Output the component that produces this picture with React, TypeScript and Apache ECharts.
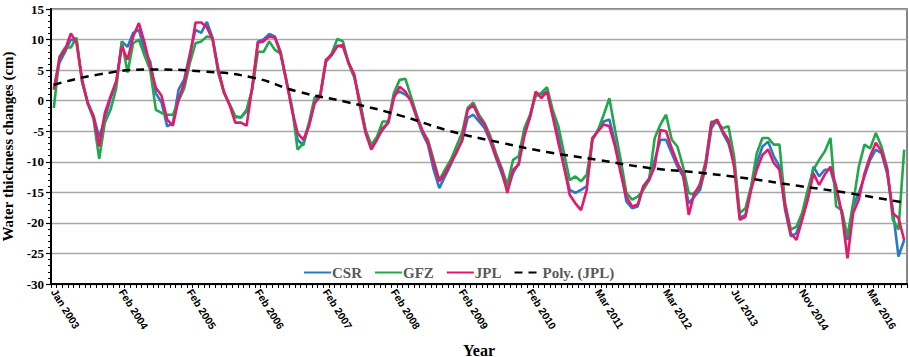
import React, { useEffect, useRef } from "react";
import * as echarts from "echarts";

const categories: string[] = [
  "Jan 2003","Feb 2003","Mar 2003","Apr 2003","May 2003","Jul 2003","Aug 2003","Sep 2003","Oct 2003","Nov 2003","Dec 2003","Jan 2004",
  "Feb 2004","Mar 2004","Apr 2004","May 2004","Jun 2004","Jul 2004","Aug 2004","Sep 2004","Oct 2004","Nov 2004","Dec 2004","Jan 2005",
  "Feb 2005","Mar 2005","Apr 2005","May 2005","Jun 2005","Jul 2005","Aug 2005","Sep 2005","Oct 2005","Nov 2005","Dec 2005","Jan 2006",
  "Feb 2006","Mar 2006","Apr 2006","May 2006","Jun 2006","Jul 2006","Aug 2006","Sep 2006","Oct 2006","Nov 2006","Dec 2006","Jan 2007",
  "Feb 2007","Mar 2007","Apr 2007","May 2007","Jun 2007","Jul 2007","Aug 2007","Sep 2007","Oct 2007","Nov 2007","Dec 2007","Jan 2008",
  "Feb 2008","Mar 2008","Apr 2008","May 2008","Jun 2008","Jul 2008","Aug 2008","Sep 2008","Oct 2008","Nov 2008","Dec 2008","Jan 2009",
  "Feb 2009","Mar 2009","Apr 2009","May 2009","Jun 2009","Jul 2009","Aug 2009","Sep 2009","Oct 2009","Nov 2009","Dec 2009","Jan 2010",
  "Feb 2010","Mar 2010","Apr 2010","May 2010","Jun 2010","Jul 2010","Aug 2010","Sep 2010","Oct 2010","Nov 2010","Dec 2010","Feb 2011",
  "Mar 2011","Apr 2011","May 2011","Jun 2011","Jul 2011","Aug 2011","Sep 2011","Oct 2011","Nov 2011","Dec 2011","Jan 2012","Feb 2012",
  "Mar 2012","Apr 2012","May 2012","Jul 2012","Aug 2012","Sep 2012","Nov 2012","Dec 2012","Jan 2013","Feb 2013","Apr 2013","Jun 2013",
  "Jul 2013","Oct 2013","Nov 2013","Dec 2013","Feb 2014","Mar 2014","Apr 2014","May 2014","Jul 2014","Aug 2014","Sep 2014","Oct 2014",
  "Nov 2014","Jan 2015","Feb 2015","Mar 2015","Apr 2015","May 2015","Jul 2015","Aug 2015","Sep 2015","Dec 2015","Jan 2016","Feb 2016",
  "Mar 2016","Apr 2016","May 2016","Jul 2016","Aug 2016","Sep 2016","Oct 2016",
];

const csr: number[] = [
  2.0, 6.2, 8.0, 10.0, 9.7, 3.0, -0.3, -2.5, -6.0, -3.0, 0.4, 2.8,
  9.7, 8.8, 11.1, 11.6, 8.2, 6.4, 1.2, -0.3, -4.2, -3.7, 1.8, 3.5,
  7.7, 11.6, 11.1, 12.9, 10.3, 5.2, 1.3, -0.7, -2.7, -2.7, -1.8, 2.0,
  9.7, 10.0, 10.9, 10.5, 8.0, 3.4, -1.2, -6.4, -7.3, -4.0, -0.2, 0.9,
  6.4, 7.4, 9.0, 8.8, 6.2, 4.0, -0.5, -5.0, -7.5, -6.2, -4.8, -3.6,
  1.0, 1.5, 1.0, 0.2, -2.8, -5.3, -7.2, -11.3, -14.3, -12.4, -10.5, -8.3,
  -6.7, -2.8, -2.3, -3.4, -4.5, -6.7, -9.4, -11.9, -14.6, -11.9, -10.2, -5.3,
  -2.8, 1.2, 1.0, 1.5, -2.3, -5.8, -10.8, -14.6, -15.1, -14.6, -14.0, -6.4,
  -4.8, -3.4, -3.1, -6.9, -11.3, -16.5, -17.6, -17.3, -14.0, -12.7, -9.7, -6.4,
  -6.4, -8.6, -10.8, -12.4, -16.8, -15.7, -14.6, -10.8, -4.5, -3.1, -5.3, -7.0,
  -10.2, -19.2, -18.7, -14.3, -10.2, -7.5, -6.7, -9.1, -10.8, -17.9, -22.2, -21.7,
  -19.0, -15.1, -10.8, -12.4, -11.3, -11.3, -14.6, -18.4, -22.8, -17.3, -15.1, -12.4,
  -9.7, -8.0, -8.6, -11.9, -17.9, -25.5, -22.8,
];

const gfz: number[] = [
  -1.2, 7.2, 8.7, 8.7, 10.3, 3.0, -0.5, -3.0, -9.5, -3.6, -1.5, 2.0,
  9.7, 4.6, 9.4, 10.0, 7.4, 5.0, -1.5, -2.0, -2.3, -2.3, 0.0, 2.0,
  6.2, 9.4, 9.7, 10.5, 10.3, 4.5, 1.3, -0.5, -2.5, -2.8, -1.5, 1.8,
  8.0, 8.0, 9.7, 8.3, 7.7, 3.2, -0.9, -8.0, -7.0, -3.6, 0.5, 1.0,
  6.4, 7.7, 10.1, 9.7, 6.0, 3.8, 0.0, -4.8, -7.2, -5.9, -3.4, -3.4,
  1.3, 3.4, 3.6, 0.7, -2.3, -5.0, -6.4, -9.7, -13.0, -11.3, -9.7, -7.5,
  -5.3, -1.2, -0.3, -2.3, -3.7, -5.8, -8.6, -11.0, -13.8, -9.7, -9.1, -4.5,
  -2.3, 0.7, 1.3, 2.2, -1.5, -4.2, -8.6, -13.0, -12.4, -13.2, -12.1, -6.4,
  -4.8, -2.3, 0.4, -4.8, -9.7, -15.1, -16.2, -15.7, -14.6, -13.0, -6.1, -3.9,
  -2.3, -6.4, -7.5, -10.8, -15.1, -15.4, -13.5, -9.9, -3.4, -3.6, -4.5, -4.2,
  -9.1, -18.4, -17.6, -14.0, -8.6, -6.1, -6.1, -7.2, -7.2, -16.8, -21.1, -20.6,
  -18.4, -14.6, -11.3, -9.7, -8.3, -6.1, -17.3, -17.9, -22.2, -16.8, -10.8, -7.2,
  -7.8, -5.3, -7.5, -11.0, -19.5, -21.1, -8.0,
];

const jpl: number[] = [
  1.8, 7.0, 8.4, 11.0, 9.5, 3.4, -0.5, -2.6, -7.5, -2.0, 0.7, 3.2,
  8.9, 6.7, 10.5, 12.7, 9.5, 5.6, 2.1, 0.8, -3.1, -4.1, 0.2, 2.9,
  7.2, 12.8, 12.8, 12.0, 10.0, 5.0, 1.5, -0.7, -3.6, -3.6, -4.1, 2.3,
  9.5, 9.7, 10.5, 10.3, 7.7, 3.4, -1.5, -5.3, -6.4, -4.2, -0.4, 0.7,
  6.7, 7.5, 8.9, 9.1, 6.2, 4.3, -0.9, -5.3, -8.0, -6.4, -4.5, -3.6,
  0.5, 2.3, 1.5, -0.1, -2.6, -4.8, -6.9, -10.2, -13.2, -11.9, -10.2, -8.6,
  -6.4, -1.5, -0.7, -2.8, -3.9, -6.4, -9.1, -11.3, -15.1, -11.3, -10.5, -5.8,
  -2.6, 1.5, 0.4, 1.5, -2.6, -6.9, -10.8, -15.4, -16.8, -17.9, -14.6, -6.1,
  -5.0, -3.9, -4.2, -7.5, -11.9, -15.7, -17.3, -17.0, -14.0, -13.0, -10.8, -4.8,
  -5.0, -7.8, -10.2, -11.9, -18.7, -15.1, -14.0, -10.2, -3.7, -3.1, -5.0, -6.4,
  -10.8, -19.5, -19.0, -14.6, -11.3, -8.9, -8.0, -10.2, -11.3, -17.3, -21.7, -22.8,
  -19.5, -16.2, -11.9, -13.8, -12.1, -10.8, -14.0, -18.4, -25.8, -18.4, -16.2, -11.9,
  -9.1, -6.9, -8.3, -11.3, -18.4, -19.2, -22.8,
];

// polynomial trend of JPL, read at sample category positions
const polyIndex: number[] = [0, 8, 17, 26, 35, 43, 52, 61, 70, 79, 87, 96, 105, 114, 123, 131, 140, 150];
const polyValue: number[] = [2.6, 4.3, 5.1, 4.8, 3.8, 1.5, -0.3, -2.4, -5.0, -6.9, -8.4, -9.7, -11.0, -11.8, -12.8, -13.9, -15.1, -16.7];

const yTicks = { min: -30, max: 15, interval: 5 };

export default function App() {
  const ref = useRef<HTMLDivElement>(null);
  useEffect(() => {
    document.body.style.margin = "0";
    if (!ref.current) return;
    const chart = echarts.init(ref.current, undefined, { renderer: "svg" });
    const serif = "Liberation Serif";
    const lineSeries = (name: string, data: number[], color: string) => ({
      name,
      type: "line",
      data,
      symbol: "none",
      showSymbol: false,
      lineStyle: { color, width: 2.6 },
      itemStyle: { color },
      z: 3,
    });
    chart.setOption({
      animation: false,
      backgroundColor: "#fff",
      grid: {
        left: 51,
        right: 2,
        top: 9,
        bottom: 73,
        containLabel: false,
        outerBoundsMode: "none",
        show: true,
        borderColor: "#555",
        borderWidth: 1.4,
      },
      legend: {
        left: 298,
        top: 260,
        itemWidth: 27,
        itemHeight: 10,
        itemGap: 12,
        itemStyle: { opacity: 0, borderWidth: 0 },
        textStyle: {
          fontFamily: serif,
          fontWeight: "bold",
          fontSize: 15,
          color: "#595959",
          padding: [0, 0, 0, -4],
        },
        data: ["CSR", "GFZ", "JPL", "Poly. (JPL)"],
      },
      xAxis: {
        type: "category",
        data: categories,
        boundaryGap: true,
        name: "Year",
        nameLocation: "middle",
        nameGap: 58,
        nameTextStyle: { fontFamily: serif, fontWeight: "bold", fontSize: 16, color: "#000" },
        axisLine: { onZero: false, lineStyle: { color: "#000", width: 2 } },
        axisTick: { show: true, interval: 0, length: 4, lineStyle: { color: "#000", width: 1 } },
        axisLabel: {
          interval: 11,
          rotate: -58,
          margin: 6,
          fontFamily: "Liberation Sans",
          fontWeight: "bold",
          fontSize: 10.5,
          color: "#000",
        },
        splitLine: { show: false },
      },
      yAxis: {
        type: "value",
        min: yTicks.min,
        max: yTicks.max,
        interval: yTicks.interval,
        name: "Water thickness changes (cm)",
        nameLocation: "middle",
        nameGap: 35,
        nameTextStyle: { fontFamily: serif, fontWeight: "bold", fontSize: 15, color: "#000" },
        axisLine: { show: true, onZero: false, lineStyle: { color: "#000", width: 2 } },
        axisTick: { show: true, length: 5, lineStyle: { color: "#000", width: 1.2 } },
        minorTick: { show: true, splitNumber: 5, length: 3, lineStyle: { color: "#000", width: 1 } },
        axisLabel: { fontFamily: serif, fontWeight: "bold", fontSize: 13, color: "#000", margin: 7 },
        splitLine: { show: true, lineStyle: { color: "#a8a8a8", width: 1.3 } },
      },
      series: [
        lineSeries("CSR", csr, "#2b78c5"),
        lineSeries("GFZ", gfz, "#22a74c"),
        lineSeries("JPL", jpl, "#e5186b"),
        {
          name: "Poly. (JPL)",
          type: "line",
          data: polyIndex.map((ix, k) => [ix, polyValue[k]]),
          smooth: true,
          symbol: "none",
          showSymbol: false,
          lineStyle: { color: "#000", width: 2.5, type: [8, 6] },
          itemStyle: { color: "#000" },
          z: 4,
        },
      ],
    });
    return () => chart.dispose();
  }, []);
  return <div ref={ref} style={{ width: 909, height: 357 }} />;
}
